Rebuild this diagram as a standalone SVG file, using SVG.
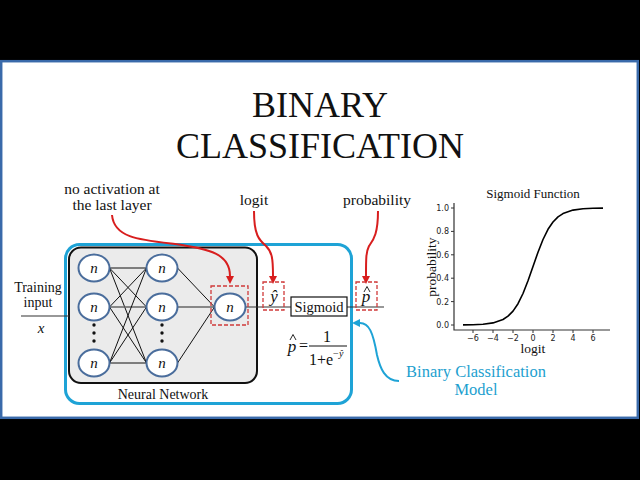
<svg xmlns="http://www.w3.org/2000/svg" width="640" height="480" viewBox="0 0 640 480">
<defs>
<style>
.serif{font-family:"Liberation Serif","Times New Roman",serif;fill:#111}
.it{font-style:italic}
.node ellipse{fill:#fff;stroke:#4a6d9c;stroke-width:2}
.node text{font-family:"Liberation Serif",serif;font-style:italic;font-size:15px;text-anchor:middle;fill:#111}
.dash{fill:none;stroke:#d03a3a;stroke-width:1.3;stroke-dasharray:4 2}
.red{fill:none;stroke:#d81e1e;stroke-width:2}
.edge{stroke:#111;stroke-width:1}
.gedge{stroke:#666;stroke-width:1.6}
.hat{fill:none;stroke:#111;stroke-width:0.9}
.tick{font-family:"DejaVu Sans",sans-serif;font-size:8px;fill:#222}
</style>
<marker id="ra" markerUnits="userSpaceOnUse" markerWidth="9" markerHeight="9" refX="0" refY="4" orient="auto">
<path d="M0,0 L8,4 L0,8 z" fill="#d81e1e"/>
</marker>
<marker id="ba" markerUnits="userSpaceOnUse" markerWidth="9" markerHeight="9" refX="0" refY="4" orient="auto">
<path d="M0,0 L8,4 L0,8 z" fill="#1ea3d6"/>
</marker>
</defs>
<rect x="0" y="0" width="640" height="480" fill="#000"/>
<rect x="1.2" y="61.2" width="636.6" height="356.6" fill="#fff" stroke="#3a6aaa" stroke-width="2.5"/>

<g id="title" class="serif" font-size="36" text-anchor="middle">
<text x="320" y="117">BINARY</text>
<text x="320" y="158">CLASSIFICATION</text>
</g>

<g id="model-box">
<rect x="65.5" y="244.5" width="286" height="159" rx="14" fill="none" stroke="#1ea3d6" stroke-width="3"/>
</g>
<g id="nn-box">
<rect x="69" y="247.5" width="188" height="135.5" rx="12" fill="#ebebeb" stroke="#111" stroke-width="2"/>
<text class="serif" x="163" y="399" font-size="14" text-anchor="middle">Neural Network</text>
</g>

<g id="connectors">
<line class="edge" x1="109.5" y1="268" x2="146.5" y2="268"/>
<line class="edge" x1="109.5" y1="268" x2="146.5" y2="307"/>
<line class="edge" x1="109.5" y1="268" x2="146.5" y2="363"/>
<line class="edge" x1="109.5" y1="307" x2="146.5" y2="268"/>
<line class="gedge" x1="109.5" y1="307" x2="146.5" y2="307"/>
<line class="edge" x1="109.5" y1="307" x2="146.5" y2="363"/>
<line class="edge" x1="109.5" y1="363" x2="146.5" y2="268"/>
<line class="edge" x1="109.5" y1="363" x2="146.5" y2="307"/>
<line class="edge" x1="109.5" y1="363" x2="146.5" y2="363"/>
<line class="edge" x1="177.5" y1="268" x2="214.5" y2="307"/>
<line class="gedge" x1="177.5" y1="307" x2="214.5" y2="307"/>
<line class="edge" x1="177.5" y1="363" x2="214.5" y2="307"/>
<line x1="21" y1="316" x2="69" y2="316" stroke="#333" stroke-width="1.2"/>
<line x1="245.5" y1="307" x2="291" y2="307" stroke="#333" stroke-width="1.2"/>
<line x1="347" y1="307" x2="384" y2="307" stroke="#333" stroke-width="1.2"/>
<path class="red" d="M112,215 C114,238 140,240 175,244 C210,249 230,254 230,276" marker-end="url(#ra)"/>
<path class="red" d="M254,211 C254,235 259,240 266,246 C272,252 273,258 273,276" marker-end="url(#ra)"/>
<path class="red" d="M378,211 C378,235 373,240 369,246 C366,252 366,258 366,276" marker-end="url(#ra)"/>
<path d="M399,381 C385,381 380,368 377,355 C373,332 369,323 360,323" fill="none" stroke="#1ea3d6" stroke-width="2" marker-end="url(#ba)"/>
</g>

<g id="n11" class="node"><ellipse cx="94" cy="268" rx="15.5" ry="13.5"/><text x="94" y="273">n</text></g>
<g id="n12" class="node"><ellipse cx="94" cy="307" rx="15.5" ry="13.5"/><text x="94" y="312">n</text></g>
<g id="n13" class="node"><ellipse cx="94" cy="363" rx="15.5" ry="13.5"/><text x="94" y="368">n</text></g>
<g id="n21" class="node"><ellipse cx="162" cy="268" rx="15.5" ry="13.5"/><text x="162" y="273">n</text></g>
<g id="n22" class="node"><ellipse cx="162" cy="307" rx="15.5" ry="13.5"/><text x="162" y="312">n</text></g>
<g id="n23" class="node"><ellipse cx="162" cy="363" rx="15.5" ry="13.5"/><text x="162" y="368">n</text></g>
<g id="dots" fill="#111">
<circle cx="94" cy="325" r="1.7"/><circle cx="94" cy="333" r="1.7"/><circle cx="94" cy="341" r="1.7"/>
<circle cx="162" cy="325" r="1.7"/><circle cx="162" cy="333" r="1.7"/><circle cx="162" cy="341" r="1.7"/>
</g>
<g id="out" class="node">
<ellipse cx="230" cy="307" rx="15.5" ry="13.5"/><text x="230" y="312">n</text>
<rect class="dash" x="211" y="286" width="37" height="39"/>
</g>

<g id="yhat">
<rect class="dash" x="263" y="282" width="21" height="28"/>
<text class="serif it" x="274" y="302" font-size="17" text-anchor="middle">ŷ</text>
</g>
<g id="sigmoid">
<rect x="291" y="297" width="56" height="19" fill="#fff" stroke="#111" stroke-width="1.2"/>
<text class="serif" x="319" y="312" font-size="14.5" text-anchor="middle">Sigmoid</text>
</g>
<g id="phat">
<rect class="dash" x="356" y="282" width="21" height="28"/>
<text class="serif it" x="366" y="302" font-size="17" text-anchor="middle">p</text>
<path class="hat" d="M364,292 L367,286.5 L370,292"/>
</g>

<g id="formula" class="serif">
<text class="it" x="292" y="352" font-size="17" text-anchor="middle">p</text>
<path class="hat" d="M290,340 L293,334.5 L296,340"/>
<text x="303.5" y="351" font-size="16" text-anchor="middle">=</text>
<line x1="309" y1="346" x2="347" y2="346" stroke="#111" stroke-width="1"/>
<text x="327" y="342" font-size="16" text-anchor="middle">1</text>
<text x="309" y="365" font-size="16">1+e</text>
<text x="333" y="357" font-size="10">−</text>
<text class="it" x="339" y="357" font-size="10">ŷ</text>
</g>

<g id="labels" class="serif" text-anchor="middle">
<text x="112" y="194" font-size="15.5">no activation at</text>
<text x="112" y="210" font-size="15.5">the last layer</text>
<text x="254" y="205" font-size="15.5">logit</text>
<text x="377" y="205" font-size="15.5">probability</text>
<text x="38" y="292" font-size="14">Training</text>
<text x="38" y="307" font-size="14">input</text>
<text class="it" x="41" y="333" font-size="15">x</text>
<text x="476" y="377" font-size="16.5" style="fill:#1e9fcf">Binary Classification</text>
<text x="476" y="395" font-size="16.5" style="fill:#1e9fcf">Model</text>
</g>

<g id="chart">
<text class="serif" x="533" y="198" font-size="13" text-anchor="middle">Sigmoid Function</text>
<path d="M454,203 V330 H610" fill="none" stroke="#333" stroke-width="1.2"/>
<g stroke="#333" stroke-width="1">
<line x1="451" y1="325" x2="454" y2="325"/><line x1="451" y1="301.6" x2="454" y2="301.6"/>
<line x1="451" y1="278.2" x2="454" y2="278.2"/><line x1="451" y1="254.8" x2="454" y2="254.8"/>
<line x1="451" y1="231.4" x2="454" y2="231.4"/><line x1="451" y1="208" x2="454" y2="208"/>
<line x1="473" y1="330" x2="473" y2="333"/><line x1="493" y1="330" x2="493" y2="333"/>
<line x1="513" y1="330" x2="513" y2="333"/><line x1="533" y1="330" x2="533" y2="333"/>
<line x1="553" y1="330" x2="553" y2="333"/><line x1="573" y1="330" x2="573" y2="333"/>
<line x1="593" y1="330" x2="593" y2="333"/>
</g>
<g class="tick" text-anchor="end">
<text x="449" y="328">0.0</text><text x="449" y="304.6">0.2</text><text x="449" y="281.2">0.4</text>
<text x="449" y="257.8">0.6</text><text x="449" y="234.4">0.8</text><text x="449" y="211">1.0</text>
</g>
<g class="tick" text-anchor="middle">
<text x="473" y="340.5">−6</text><text x="493" y="340.5">−4</text><text x="513" y="340.5">−2</text>
<text x="533" y="340.5">0</text><text x="553" y="340.5">2</text><text x="573" y="340.5">4</text><text x="593" y="340.5">6</text>
</g>
<polyline fill="none" stroke="#000" stroke-width="1.6" stroke-linejoin="round" points="463,324.9 473,324.7 483,324.2 493,322.9 503,319.5 508,316.1 513,311.1 518,303.7 523,293.5 528,280.8 533,266.5 538,252.2 543,239.5 548,229.3 553,222.0 558,216.9 563,213.6 573,210.1 583,208.8 593,208.3 603,208.1"/>
<text class="serif" x="533" y="353" font-size="13.5" text-anchor="middle">logit</text>
<text class="serif" transform="translate(436,267) rotate(-90)" font-size="13.5" text-anchor="middle">probability</text>
</g>
</svg>
